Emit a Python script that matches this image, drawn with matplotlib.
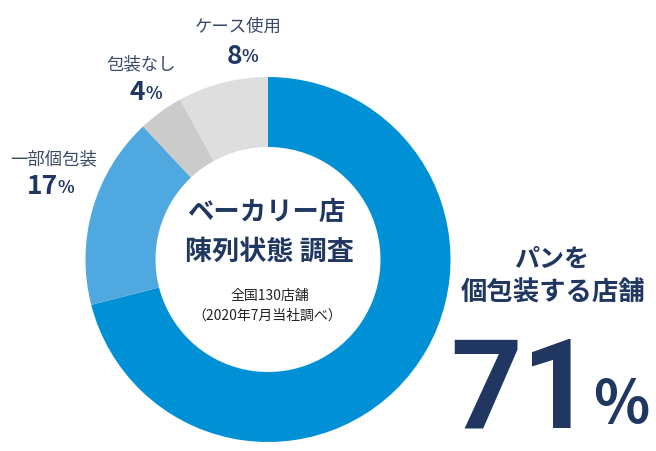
import matplotlib.pyplot as plt

plt.rcParams['font.family'] = ['Noto Sans CJK JP', 'DejaVu Sans']

labels = ['パンを個包装', '一部個包装', '包装なし', 'ケース使用']
values = [71, 17, 4, 8]
colors = ['#0090d6', '#50a8e0', '#cbcbcb', '#dedede']

navy = '#1f3761'
label_navy = '#3a4a66'

fig = plt.figure(figsize=(6.56, 4.52), dpi=100)
ax = fig.add_axes([0, 0, 1, 1])
ax.set_xlim(0, 656)
ax.set_ylim(0, 452)
ax.set_aspect('equal')
ax.axis('off')

cx, cy = 268, 452 - 260.5
ax.pie(values, colors=colors, startangle=90, counterclock=False,
       center=(cx, cy), radius=182.5, wedgeprops=dict(width=70, linewidth=0))
ax.set_xlim(0, 656)
ax.set_ylim(0, 452)


def Y(y):
    return 452 - y


# outer labels: (name, value, x, y of name, y of number)
outer = [
    ('ケース使用', values[3], 238, 27, 56),
    ('包装なし', values[2], 141, 64, 93),
    ('一部個包装', values[1], 54, 159, 187),
]
for name, v, x, yn, yv in outer:
    ax.text(x, Y(yn), name, ha='center', va='center', fontsize=12.5, color=label_navy)
    ax.text(x + 4, Y(yv), str(v), ha='right', va='center', fontsize=19,
            fontweight='bold', color=navy)
    ax.text(x + 4, Y(yv) - 1, '%', ha='left', va='center', fontsize=12.5,
            fontweight='bold', color=navy)

# centre title
ax.text(266, Y(213), 'ベーカリー店', ha='center', va='center', fontsize=19,
        fontweight='bold', color=navy)
ax.text(269, Y(252), '陳列状態 調査', ha='center', va='center', fontsize=19.5,
        fontweight='bold', color=navy)
ax.text(270, Y(296), '全国130店舗', ha='center', va='center', fontsize=10, color='#222222')
ax.text(267, Y(316), '（2020年7月当社調べ）', ha='center', va='center', fontsize=10,
        color='#222222')

# right highlight
ax.text(552, Y(260), 'パンを', ha='center', va='center', fontsize=18,
        fontweight='bold', color=navy)
ax.text(553, Y(293), '個包装する店舗', ha='center', va='center', fontsize=19,
        fontweight='bold', color=navy)
ax.text(450, Y(428), str(values[0]), ha='left', va='baseline', fontsize=90,
        fontweight='bold', family='Roboto', color=navy)
ax.text(593, Y(423), '%', ha='left', va='baseline', fontsize=42,
        fontweight='bold', color=navy)

fig.savefig('out.png', dpi=100)
